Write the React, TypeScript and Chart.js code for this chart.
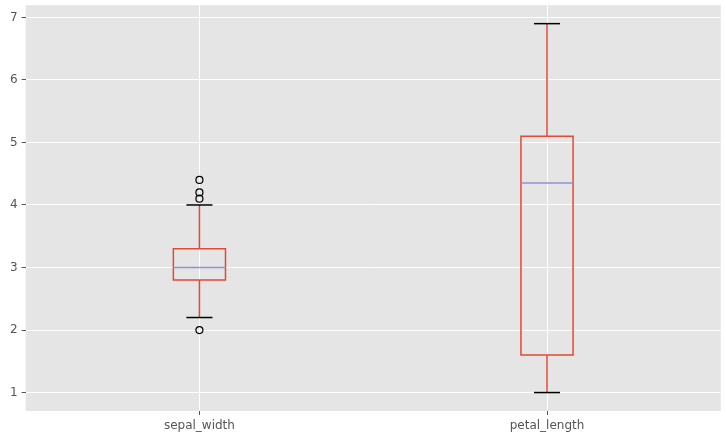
import React, { useEffect, useRef } from "react";
import { Chart, registerables } from "chart.js";

Chart.register(...registerables);

const categories = ["sepal_width", "petal_length"];
const q1Values = [2.8, 1.6];
const medianValues = [3.0, 4.35];
const q3Values = [3.3, 5.1];
const whiskerLowValues = [2.2, 1.0];
const whiskerHighValues = [4.0, 6.9];
const outlierValues = [[4.4, 4.2, 4.1, 2.0], []];
const yTickValues = [1, 2, 3, 4, 5, 6, 7];

const BOX_WIDTH = 0.15;
const CAP_WIDTH = 0.075;

const boxPlugin = {
  id: "boxPlugin",
  beforeDraw(chart: any) {
    const { ctx, chartArea } = chart;
    ctx.save();
    ctx.fillStyle = "#E5E5E5";
    ctx.fillRect(chartArea.left, chartArea.top, chartArea.right - chartArea.left, chartArea.bottom - chartArea.top);
    ctx.restore();
  },
  beforeDatasetsDraw(chart: any) {
    const { ctx } = chart;
    const xs = chart.scales.x;
    const ys = chart.scales.y;
    const px = (v: number) => xs.getPixelForValue(v);
    const py = (v: number) => ys.getPixelForValue(v);
    const line = (x1: number, y1: number, x2: number, y2: number, color: string) => {
      ctx.beginPath();
      ctx.strokeStyle = color;
      ctx.lineWidth = 1.5;
      ctx.moveTo(x1, y1);
      ctx.lineTo(x2, y2);
      ctx.stroke();
    };
    ctx.save();
    const red = "#E24A33";
    categories.forEach((_, i) => {
      const pos = i + 1;
      const xc = px(pos);
      const xl = px(pos - BOX_WIDTH / 2);
      const xr = px(pos + BOX_WIDTH / 2);
      const cl = px(pos - CAP_WIDTH / 2);
      const cr = px(pos + CAP_WIDTH / 2);
      // whiskers
      line(xc, py(q1Values[i]), xc, py(whiskerLowValues[i]), red);
      line(xc, py(q3Values[i]), xc, py(whiskerHighValues[i]), red);
      // caps
      line(cl, py(whiskerLowValues[i]), cr, py(whiskerLowValues[i]), "#000000");
      line(cl, py(whiskerHighValues[i]), cr, py(whiskerHighValues[i]), "#000000");
      // box
      ctx.beginPath();
      ctx.strokeStyle = red;
      ctx.lineWidth = 1.5;
      ctx.rect(xl, py(q3Values[i]), xr - xl, py(q1Values[i]) - py(q3Values[i]));
      ctx.stroke();
      // median
      line(xl, py(medianValues[i]), xr, py(medianValues[i]), "#988ED5");
    });
    ctx.restore();
  },
};

export default function App() {
  const ref = useRef<HTMLCanvasElement | null>(null);
  useEffect(() => {
    document.body.style.margin = "0";
    const canvas = ref.current!;
    const outlierPoints: { x: number; y: number }[] = [];
    outlierValues.forEach((arr, i) => arr.forEach((v) => outlierPoints.push({ x: i + 1, y: v })));
    const chart = new Chart(canvas, {
      type: "scatter",
      data: {
        datasets: [
          {
            data: outlierPoints,
            pointStyle: "circle",
            pointRadius: 3.5,
            pointBorderWidth: 1.2,
            pointBorderColor: "#000000",
            pointBackgroundColor: "rgba(0,0,0,0)",
          },
        ],
      },
      options: {
        animation: false,
        responsive: false,
        devicePixelRatio: 1,
        layout: { padding: { top: 4, right: 3, bottom: 3, left: 6 } },
        plugins: { legend: { display: false }, tooltip: { enabled: false } },
        scales: {
          x: {
            type: "linear",
            min: 0.5,
            max: 2.5,
            afterBuildTicks: (axis: any) => {
              axis.ticks = categories.map((_, i) => ({ value: i + 1 }));
            },
            afterFit: (scale: any) => {
              scale.paddingLeft = 0;
              scale.paddingRight = 0;
              scale.height = 21;
            },
            ticks: {
              callback: (v: any) => categories[Number(v) - 1] ?? "",
              color: "#555555",
              font: { family: "DejaVu Sans", size: 12, lineHeight: 1 },
              padding: 5,
              maxRotation: 0,
            },
            grid: { color: "#FFFFFF", lineWidth: 1, tickColor: "#555555", tickLength: 4 },
            border: { display: false },
          },
          y: {
            min: 0.705,
            max: 7.195,
            afterBuildTicks: (axis: any) => {
              axis.ticks = yTickValues.map((v) => ({ value: v }));
            },
            afterFit: (scale: any) => {
              scale.paddingTop = 0;
              scale.paddingBottom = 0;
            },
            ticks: {
              color: "#555555",
              font: { family: "DejaVu Sans", size: 12 },
              padding: 4,
            },
            grid: { color: "#FFFFFF", lineWidth: 1, tickColor: "#555555", tickLength: 4 },
            border: { display: false },
          },
        },
      },
      plugins: [boxPlugin],
    });
    return () => chart.destroy();
  }, []);
  return <canvas ref={ref} width={726} height={435} style={{ display: "block", width: 726, height: 435 }} />;
}
